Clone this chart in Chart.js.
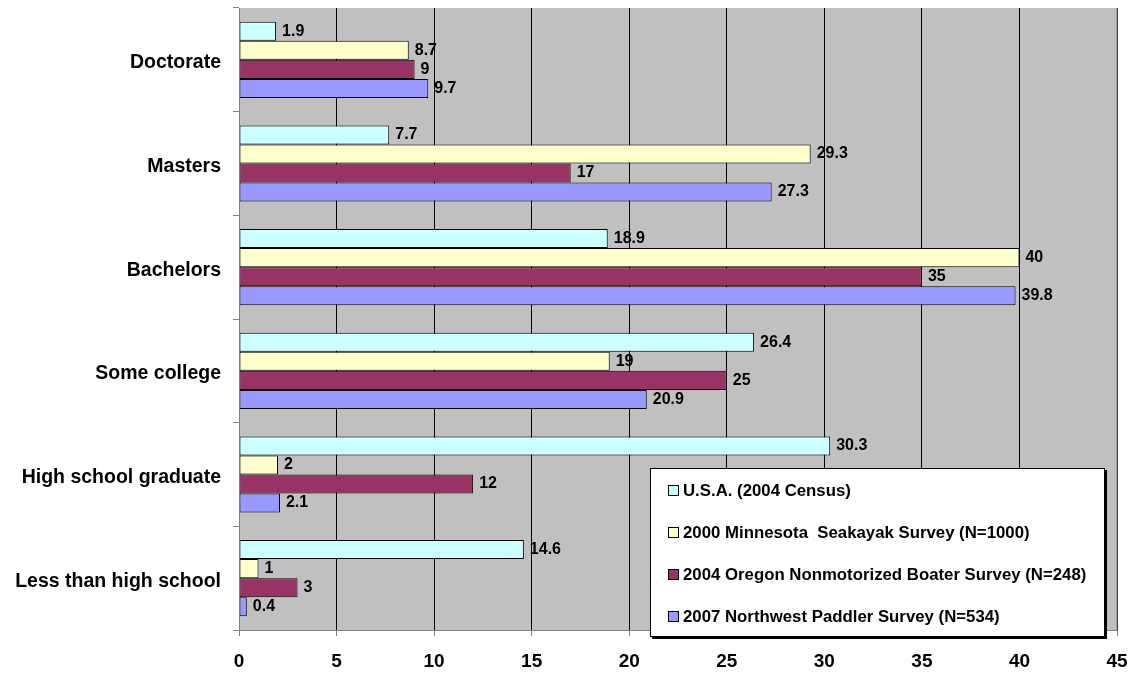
<!DOCTYPE html>
<html>
<head>
<meta charset="utf-8">
<script src="https://cdn.jsdelivr.net/npm/chart.js@4.4.0/dist/chart.umd.min.js"></script>
<style>
  body { margin: 0; background: #fff; font-family: "Liberation Sans", Arial, sans-serif; }
  #wrap { position: relative; width: 1133px; height: 675px; }
  #legenda { position: absolute; left: 650px; top: 468px; width: 453px; height: 167px; background: #fff; border: 1px solid #000; box-shadow: 2px 2px 0 #000; }
  .item { position: absolute; left: 17px; font-weight: bold; font-size: 16.8px; color: #000; white-space: pre; line-height: 20px; }
  .item span { display: inline-block; width: 9px; height: 9px; border: 1px solid #000; margin-right: 4px; vertical-align: 0px; }
</style>
</head>
<body>
<div id="wrap">
  <canvas id="grafico" width="1133" height="675"></canvas>
  <div id="legenda"></div>
</div>
<script>
// Dados
const categorias = ['Doctorate', 'Masters', 'Bachelors', 'Some college', 'High school graduate', 'Less than high school'];
const serieNomes = ['U.S.A. (2004 Census)', '2000 Minnesota  Seakayak Survey (N=1000)', '2004 Oregon Nonmotorized Boater Survey (N=248)', '2007 Northwest Paddler Survey (N=534)'];
const usa = [1.9, 7.7, 18.9, 26.4, 30.3, 14.6];
const minnesota = [8.7, 29.3, 40, 19, 2, 1];
const oregon = [9, 17, 35, 25, 12, 3];
const northwest = [9.7, 27.3, 39.8, 20.9, 2.1, 0.4];
const cores = ['#CCFFFF', '#FFFFCC', '#993366', '#9999FF'];
const eixoX = { min: 0, max: 45, passo: 5 };

// Legenda em HTML
const legenda = document.getElementById('legenda');
const topos = [12, 54, 96, 138];
serieNomes.forEach((nome, i) => {
    const d = document.createElement('div');
    d.className = 'item';
    d.style.top = topos[i] + 'px';
    d.innerHTML = '<span style="background:' + cores[i] + '"></span>' + nome;
    legenda.appendChild(d);
});

// Fundo cinza da área do gráfico
const fundoPlot = {
    id: 'fundoPlot',
    beforeDraw(chart) {
        const a = chart.chartArea, ctx = chart.ctx;
        ctx.save();
        ctx.fillStyle = '#C0C0C0';
        ctx.fillRect(a.left, a.top, a.right - a.left, a.bottom - a.top);
        ctx.restore();
    },
    afterDatasetsDraw(chart) {
        const a = chart.chartArea, ctx = chart.ctx;
        ctx.save();
        ctx.strokeStyle = '#808080';
        ctx.lineWidth = 1;
        ctx.beginPath();
        ctx.moveTo(a.left + 0.5, a.top);
        ctx.lineTo(a.left + 0.5, a.bottom + 0.5);
        ctx.lineTo(a.right, a.bottom + 0.5);
        ctx.lineTo(a.right, a.top);
        ctx.stroke();
        ctx.restore();
    }
};

// Rótulos de valor no fim das barras
const rotulos = {
    id: 'rotulos',
    afterDatasetsDraw(chart) {
        const ctx = chart.ctx;
        ctx.save();
        ctx.font = 'bold 16px "Liberation Sans", Arial, sans-serif';
        ctx.fillStyle = '#000';
        ctx.textAlign = 'left';
        ctx.textBaseline = 'middle';
        chart.data.datasets.forEach((ds, i) => {
            chart.getDatasetMeta(i).data.forEach((bar, j) => {
                ctx.fillText(String(ds.data[j]), bar.x + 6, bar.y);
            });
        });
        ctx.restore();
    }
};

new Chart(document.getElementById('grafico'), {
    type: 'bar',
    data: {
        labels: categorias,
        datasets: [
            { label: serieNomes[0], data: usa, backgroundColor: cores[0] },
            { label: serieNomes[1], data: minnesota, backgroundColor: cores[1] },
            { label: serieNomes[2], data: oregon, backgroundColor: cores[2] },
            { label: serieNomes[3], data: northwest, backgroundColor: cores[3] }
        ].map(ds => Object.assign(ds, { borderColor: '#000', borderWidth: 1, borderSkipped: false, barPercentage: 1, categoryPercentage: 0.735 }))
    },
    options: {
        indexAxis: 'y',
        responsive: false,
        animation: false,
        layout: { padding: { top: 8, right: 16, left: 0, bottom: 0 } },
        plugins: { legend: { display: false }, tooltip: { enabled: false } },
        scales: {
            x: {
                min: eixoX.min, max: eixoX.max,
                ticks: { stepSize: eixoX.passo, color: '#000', font: { family: '"Liberation Sans", Arial', size: 19, weight: 'bold' }, padding: 14 },
                grid: { color: '#000', lineWidth: 1, tickLength: 6, tickColor: '#808080' },
                border: { display: false },
                afterFit(s) { s.height = 45; s.paddingLeft = 0; s.paddingRight = 0; }
            },
            y: {
                ticks: { color: '#000', font: { family: '"Liberation Sans", Arial', size: 19.5, weight: 'bold' }, padding: 12, labelOffset: 3 },
                grid: { offset: true, drawOnChartArea: false, tickLength: 6, color: '#808080' },
                border: { display: false },
                afterFit(s) { s.width = 239; s.paddingTop = 0; s.paddingBottom = 0; }
            }
        }
    },
    plugins: [fundoPlot, rotulos]
});
</script>
</body>
</html>
